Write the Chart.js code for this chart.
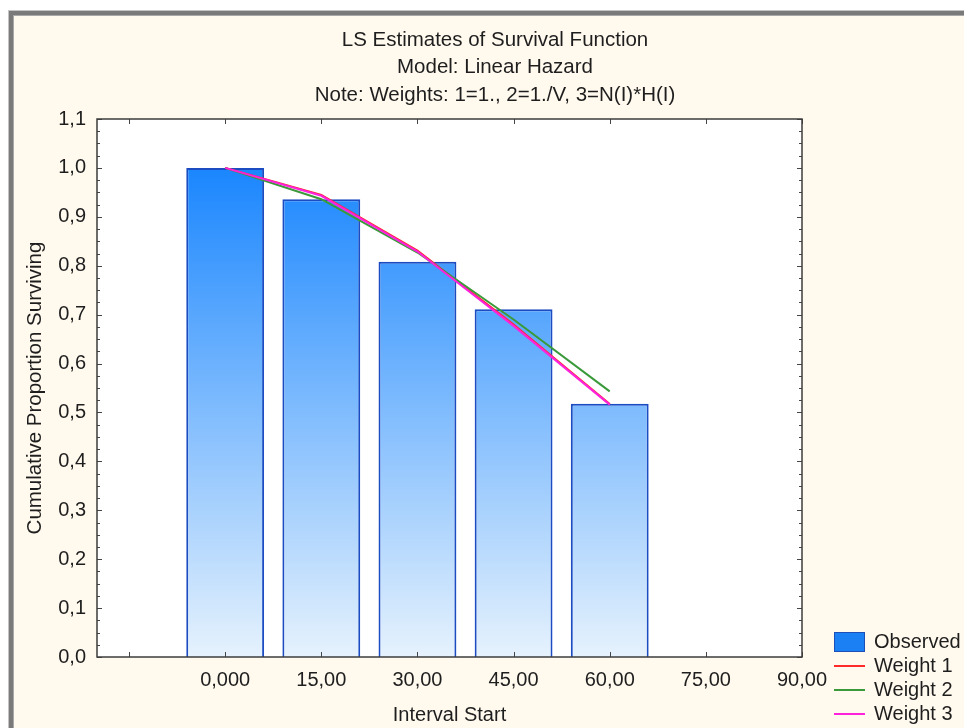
<!DOCTYPE html>
<html>
<head>
<meta charset="utf-8">
<script src="https://cdn.jsdelivr.net/npm/chart.js@4.4.1/dist/chart.umd.min.js"></script>
<style>
  html, body { margin: 0; padding: 0; background: #ffffff; }
  #wrap { position: relative; width: 964px; height: 728px; }
  canvas { display: block; }
</style>
</head>
<body>
<div id="wrap"><canvas id="chart" width="964" height="728"></canvas></div>
<script>
// Life-table survival: observed cumulative proportion and three weighted LS fits
const intervalStart = [0, 15, 30, 45, 60];
const observed = [1.000, 0.936, 0.808, 0.711, 0.518];
const weight1  = [1.000, 0.945, 0.831, 0.680, 0.517];
const weight2  = [1.000, 0.936, 0.827, 0.690, 0.543];
const weight3  = [1.000, 0.943, 0.829, 0.677, 0.516];

const xTickValues = [-15, 0, 15, 30, 45, 60, 75, 90];
const xTickLabels = ['', '0,000', '15,00', '30,00', '45,00', '60,00', '75,00', '90,00'];
const yTickValues = [0, 0.1, 0.2, 0.3, 0.4, 0.5, 0.6, 0.7, 0.8, 0.9, 1.0, 1.1];
const yTickLabels = ['0,0', '0,1', '0,2', '0,3', '0,4', '0,5', '0,6', '0,7', '0,8', '0,9', '1,0', '1,1'];

const titleLines = [
  'LS Estimates of Survival Function',
  'Model: Linear Hazard',
  'Note: Weights: 1=1., 2=1./V, 3=N(I)*H(I)'
];
const legendLabels = ['Observed', 'Weight 1', 'Weight 2', 'Weight 3'];
const lineColors = ['#ff2a2a', '#3a9a3a', '#ff22dd'];

const FONT = '"Liberation Sans", Arial, sans-serif';
const TEXT = '#1e1e1e';

const pts = (ys) => intervalStart.map((x, i) => ({ x: x, y: ys[i] }));

// vertical blue gradient tied to the value axis (dark at 1.0, pale at 0)
function barGradient(context) {
  const chart = context.chart;
  const area = chart.chartArea;
  if (!area) return '#3a95fb';
  const ys = chart.scales.y;
  const g = chart.ctx.createLinearGradient(0, ys.getPixelForValue(1.0), 0, ys.getPixelForValue(0));
  g.addColorStop(0, '#1a86fe');
  g.addColorStop(1, '#e6f2fd');
  return g;
}

const panelPlugin = {
  id: 'panel',
  beforeDraw(chart) {
    const { ctx, chartArea: a } = chart;
    ctx.save();
    ctx.fillStyle = '#ffffff';
    ctx.fillRect(0, 0, chart.width, chart.height);
    // framed cream panel
    ctx.fillStyle = '#c4c4c4';
    ctx.fillRect(8, 10, chart.width - 8, chart.height - 10);
    ctx.fillStyle = '#7a7a7a';
    ctx.fillRect(9, 11, chart.width - 9, chart.height - 11);
    ctx.fillStyle = '#a8a8a8';
    ctx.fillRect(13, 15, chart.width - 13, chart.height - 15);
    ctx.fillStyle = '#fff9ee';
    ctx.fillRect(14, 16, chart.width - 14, chart.height - 16);
    // plot area
    ctx.fillStyle = '#ffffff';
    ctx.fillRect(a.left, a.top, a.right - a.left, a.bottom - a.top);
    ctx.restore();
  }
};

const framePlugin = {
  id: 'frame',
  afterDraw(chart) {
    const { ctx, chartArea: a, scales } = chart;
    const xs = scales.x, ys = scales.y;
    ctx.save();
    ctx.strokeStyle = '#454545';
    ctx.lineWidth = 1;
    ctx.beginPath();
    // inward major ticks on x (bottom and top)
    xTickValues.forEach(v => {
      const px = Math.round(xs.getPixelForValue(v)) + 0.5;
      ctx.moveTo(px, a.bottom); ctx.lineTo(px, a.bottom - 5);
      ctx.moveTo(px, a.top); ctx.lineTo(px, a.top + 5);
    });
    // inward major and minor ticks on y (left and right)
    for (let i = 0; i < yTickValues.length; i++) {
      const v = yTickValues[i];
      const py = Math.round(ys.getPixelForValue(v)) + 0.5;
      ctx.moveTo(a.left, py); ctx.lineTo(a.left + 5, py);
      ctx.moveTo(a.right, py); ctx.lineTo(a.right - 5, py);
      if (i < yTickValues.length - 1) {
        const step = (yTickValues[i + 1] - v) / 4;
        for (let k = 1; k < 4; k++) {
          const pm = Math.round(ys.getPixelForValue(v + k * step)) + 0.5;
          ctx.moveTo(a.left, pm); ctx.lineTo(a.left + 3, pm);
          ctx.moveTo(a.right, pm); ctx.lineTo(a.right - 3, pm);
        }
      }
    }
    ctx.stroke();
    // plot frame
    ctx.lineWidth = 1.5;
    ctx.strokeStyle = '#3c3c3c';
    ctx.strokeRect(a.left, a.top, a.right - a.left, a.bottom - a.top);

    // titles
    ctx.fillStyle = TEXT;
    ctx.font = '20.5px ' + FONT;
    ctx.textAlign = 'center';
    ctx.textBaseline = 'middle';
    const ty = [40, 67, 95];
    titleLines.forEach((t, i) => ctx.fillText(t, 495, ty[i]));

    // legend
    const lx = 834, ly = [642, 666, 690, 714];
    ctx.fillStyle = '#1a80f4';
    ctx.fillRect(lx, 632, 31, 20);
    ctx.lineWidth = 1;
    ctx.strokeStyle = '#1c4fb8';
    ctx.strokeRect(lx + 0.5, 632.5, 30, 19);
    ctx.lineWidth = 2;
    lineColors.forEach((c, i) => {
      ctx.strokeStyle = c;
      ctx.beginPath();
      ctx.moveTo(lx, ly[i + 1]);
      ctx.lineTo(lx + 31, ly[i + 1]);
      ctx.stroke();
    });
    ctx.fillStyle = TEXT;
    ctx.font = '20px ' + FONT;
    ctx.textAlign = 'left';
    legendLabels.forEach((t, i) => ctx.fillText(t, 874, ly[i]));
    ctx.restore();
  }
};

const lineDataset = (label, ys, color, order) => ({
  type: 'line',
  label: label,
  data: pts(ys),
  borderColor: color,
  backgroundColor: color,
  borderWidth: 2,
  pointRadius: 0,
  tension: 0,
  fill: false,
  order: order
});

new Chart(document.getElementById('chart'), {
  type: 'bar',
  data: {
    datasets: [
      {
        type: 'bar',
        label: legendLabels[0],
        data: pts(observed),
        backgroundColor: barGradient,
        borderColor: '#1c4cc2',
        borderWidth: 2,
        barPercentage: 0.81,
        categoryPercentage: 1.0,
        order: 4
      },
      lineDataset(legendLabels[1], weight1, lineColors[0], 3),
      lineDataset(legendLabels[2], weight2, lineColors[1], 2),
      lineDataset(legendLabels[3], weight3, lineColors[2], 1)
    ]
  },
  options: {
    responsive: false,
    devicePixelRatio: 1,
    animation: false,
    layout: { padding: { top: 119, right: 162, bottom: 0, left: 0 } },
    plugins: {
      legend: { display: false },
      title: { display: false },
      tooltip: { enabled: false }
    },
    scales: {
      x: {
        type: 'linear',
        min: -20,
        max: 90,
        offset: false,
        grid: { display: false, drawTicks: false },
        border: { display: false },
        afterBuildTicks(scale) { scale.ticks = xTickValues.map(v => ({ value: v })); },
        afterFit(scale) { scale.height = 71; },
        ticks: {
          autoSkip: false,
          maxRotation: 0,
          padding: 11,
          color: TEXT,
          font: { family: FONT, size: 20 },
          callback: (value, index) => xTickLabels[index]
        },
        title: {
          display: true,
          text: 'Interval Start',
          color: TEXT,
          font: { family: FONT, size: 20 },
          padding: { top: 0, bottom: 1 }
        }
      },
      y: {
        type: 'linear',
        min: 0,
        max: 1.1,
        grid: { display: false, drawTicks: false },
        border: { display: false },
        afterBuildTicks(scale) { scale.ticks = yTickValues.map(v => ({ value: v })); },
        afterFit(scale) { scale.width = 97; },
        ticks: {
          padding: 11,
          color: TEXT,
          font: { family: FONT, size: 20 },
          callback: (value, index) => yTickLabels[index]
        },
        title: {
          display: true,
          text: 'Cumulative Proportion Surviving',
          color: TEXT,
          font: { family: FONT, size: 20.5 },
          padding: { top: 23, bottom: 0 }
        }
      }
    }
  },
  plugins: [panelPlugin, framePlugin]
});
</script>
</body>
</html>
